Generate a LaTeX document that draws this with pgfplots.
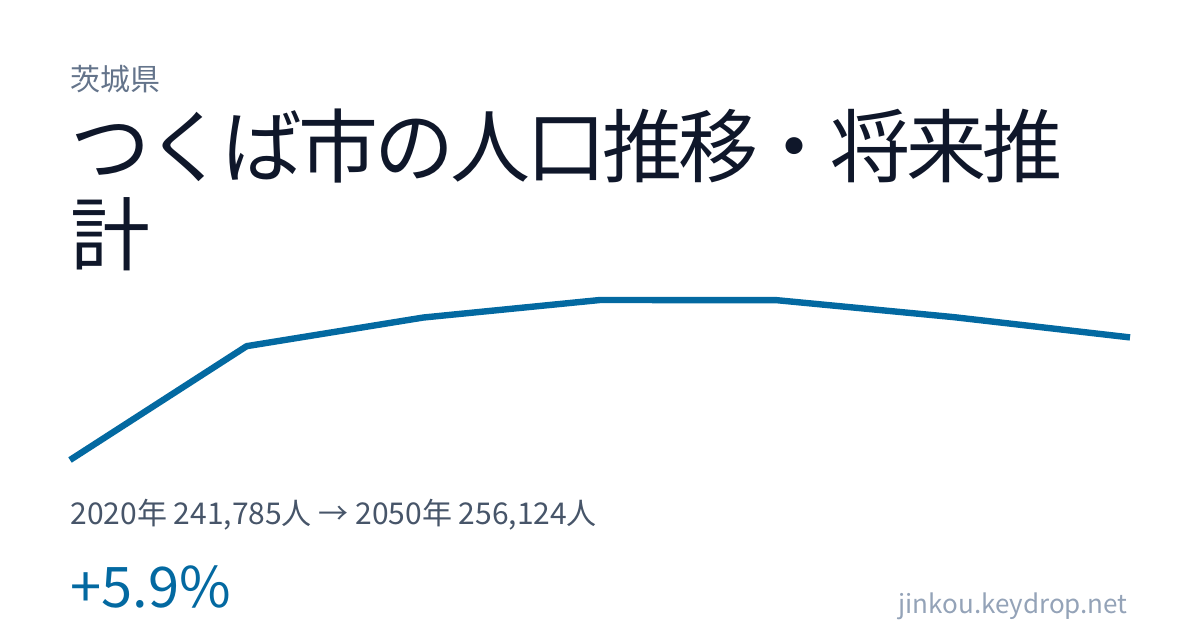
\documentclass[border=0pt]{standalone}
\usepackage{fontspec}
\setmainfont{Noto Sans CJK JP}
\usepackage{pgfplots}
\pgfplotsset{compat=1.18}

\definecolor{LineBlue}{HTML}{0369A1}
\definecolor{Pref}{HTML}{64748B}
\definecolor{TitleInk}{HTML}{0F172A}
\definecolor{SubInk}{HTML}{475569}
\definecolor{UrlInk}{HTML}{94A3B8}

\begin{document}
\begin{tikzpicture}
  % page: 1200x630 px, 1px = 0.5pt, origin top-left
  \path[fill=white,use as bounding box] (0,0) rectangle (600pt,-315pt);

  \node[anchor=base west,inner sep=0,text=Pref] at (35pt,-45.5pt)
    {\fontsize{15pt}{17pt}\selectfont 茨城県};
  \node[anchor=base west,inner sep=0,text=TitleInk] at (35pt,-88.5pt)
    {\fontsize{40pt}{44pt}\selectfont\addfontfeatures{LetterSpace=-5}つくば市の人口推移・将来推};
  \node[anchor=base west,inner sep=0,text=TitleInk] at (35pt,-132.5pt)
    {\fontsize{40pt}{44pt}\selectfont 計};

  \begin{axis}[
      at={(35pt,-230pt)}, anchor=south west,
      scale only axis, width=530pt, height=80pt,
      hide axis, clip=false,
      xmin=2020, xmax=2050,
      ymin=241785, ymax=260500
    ]
    \addplot[LineBlue, line width=3.2pt, line join=round] coordinates {
      (2020,241785)
      (2025,255100)
      (2030,258450)
      (2035,260500)
      (2040,260480)
      (2045,258500)
      (2050,256124)
    };
  \end{axis}

  \node[anchor=base west,inner sep=0,text=SubInk] at (35pt,-262pt)
    {\fontsize{15pt}{17pt}\selectfont 2020年 241,785人 → 2050年 256,124人};
  \node[anchor=base west,inner sep=0,text=LineBlue] at (35pt,-303.5pt)
    {\fontsize{28pt}{32pt}\selectfont +5.9\%};
  \node[anchor=base east,inner sep=0,text=UrlInk] at (564pt,-306.5pt)
    {\fontsize{13pt}{15pt}\selectfont jinkou.keydrop.net};
\end{tikzpicture}
\end{document}
